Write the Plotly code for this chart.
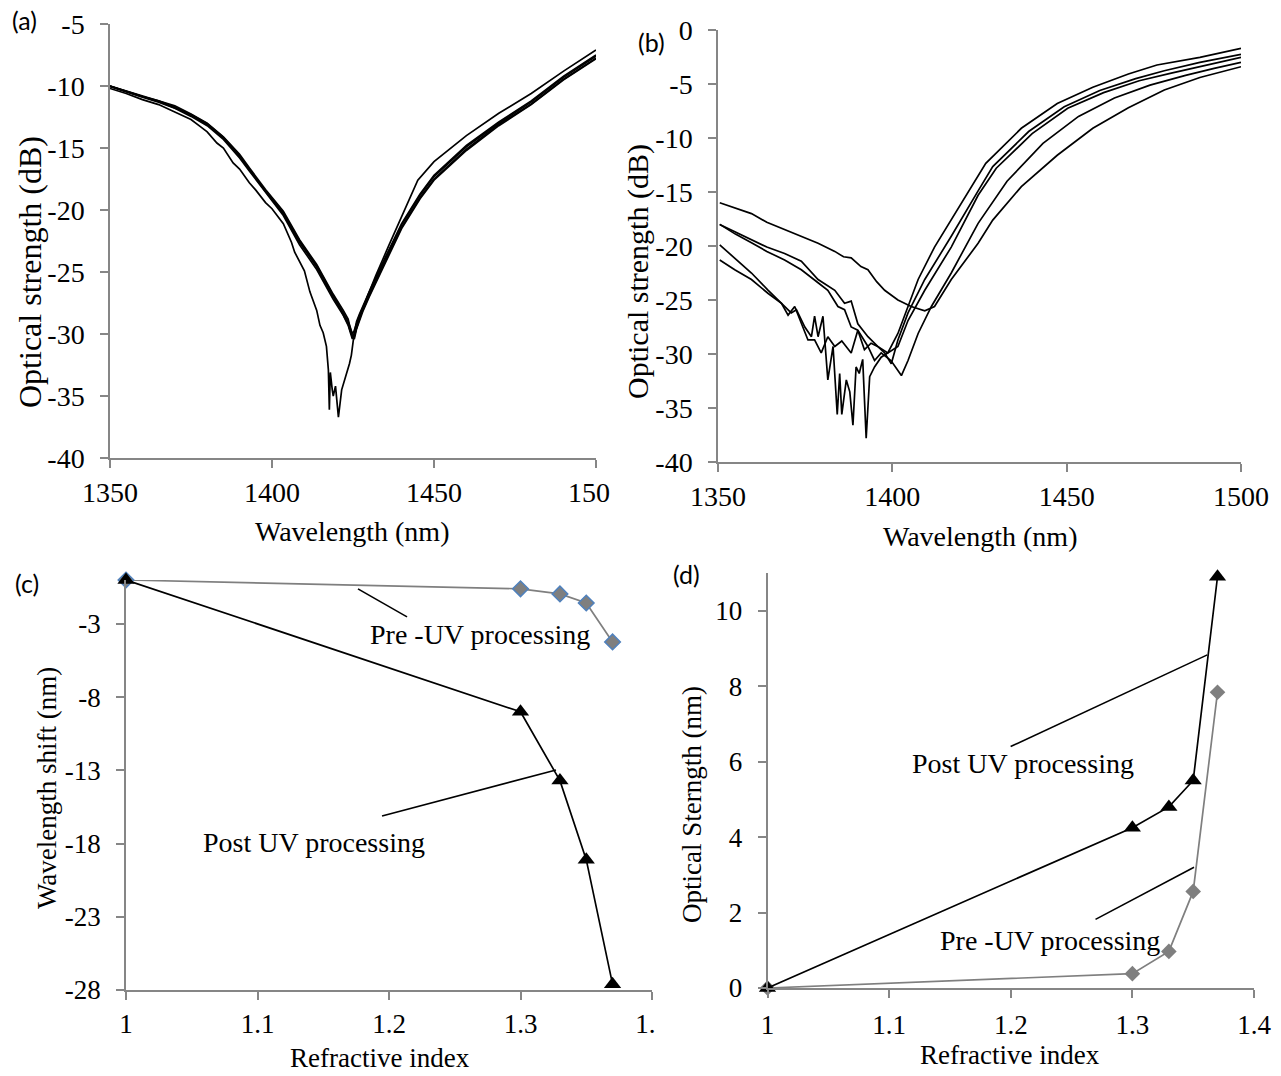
import plotly.graph_objects as go

# ---------------- Panel (a) data: wavelength (nm) / optical strength (dB) ----------------
a1_wl = [1350, 1355, 1360, 1365, 1370, 1375, 1378, 1380, 1383, 1385, 1388, 1390, 1393, 1395, 1398, 1400,
         1403.5, 1406, 1407, 1408.6, 1410, 1411.7, 1413.8, 1414.8, 1415.8, 1416.8, 1417.4, 1417.7, 1418.0,
         1418.6, 1418.9, 1419.6, 1420.5, 1421.5, 1422.5, 1423.2, 1423.9, 1424.5, 1425.1, 1426.0, 1427.2,
         1429.4, 1432, 1436, 1440, 1445, 1450, 1460, 1470, 1480, 1490, 1500]
a1_db = [-10.2, -10.6, -11.1, -11.5, -12.1, -12.7, -13.3, -13.7, -14.6, -15.0, -16.2, -16.7, -17.8, -18.4,
         -19.4, -19.9, -21.1, -22.6, -23.4, -24.2, -24.9, -26.6, -28.1, -29.3, -29.9, -31.0, -32.9, -36.1,
         -33.1, -34.5, -35.0, -34.2, -36.7, -34.5, -33.7, -33.0, -32.4, -31.7, -30.5, -29.6, -28.6,
         -27.0, -25.3, -22.9, -20.6, -17.6, -16.1, -14.0, -12.2, -10.6, -8.8, -7.1]

bundle_wl = [1350, 1355, 1360, 1365, 1370, 1375, 1380, 1385, 1390, 1393, 1398, 1403.5, 1408.5, 1413.8,
             1418.9, 1422, 1423.5, 1424.2, 1424.8, 1425.4, 1426.1, 1427, 1428, 1430, 1435, 1440, 1445.7,
             1450, 1460, 1470, 1480, 1490, 1500]
a2_db = [-10.0, -10.45, -10.85, -11.2, -11.7, -12.35, -13.1, -14.2, -15.65, -16.7, -18.5, -20.3, -22.6,
         -24.6, -27.0, -28.3, -29.0, -29.5, -30.0, -29.7, -29.1, -28.5, -27.9, -26.7, -23.9, -21.2, -18.8,
         -17.3, -14.9, -13.0, -11.3, -9.3, -7.6]
a3_db = [-10.0, -10.4, -10.8, -11.15, -11.6, -12.25, -13.0, -14.1, -15.5, -16.6, -18.35, -20.1, -22.4,
         -24.4, -26.8, -28.1, -28.8, -29.6, -30.3, -30.1, -29.4, -28.7, -28.1, -26.9, -24.1, -21.4, -19.0,
         -17.5, -15.1, -13.1, -11.45, -9.45, -7.75]
a4_db = [-10.05, -10.5, -10.9, -11.3, -11.8, -12.45, -13.2, -14.3, -15.8, -16.85, -18.6, -20.45, -22.8,
         -24.8, -27.2, -28.5, -29.3, -29.9, -30.4, -29.9, -29.0, -28.4, -27.8, -26.6, -23.8, -21.1, -18.7,
         -17.2, -14.8, -12.9, -11.2, -9.2, -7.5]
a5_db = [-10.0, -10.45, -10.85, -11.25, -11.75, -12.3, -13.05, -14.15, -15.6, -16.75, -18.45, -20.25,
         -22.5, -24.5, -26.9, -28.4, -29.2, -29.8, -30.1, -30.4, -29.6, -28.9, -28.2, -27.0, -24.2, -21.5,
         -19.1, -17.6, -15.2, -13.2, -11.5, -9.5, -7.8]

# ---------------- Panel (b) data ----------------
b1_wl = [1350.5, 1354, 1359.6, 1364, 1369.1, 1374, 1378.7, 1383.5, 1386, 1388.2, 1391, 1393, 1395.5,
         1397.8, 1401.6, 1405.4, 1409.3, 1412.1, 1416.9, 1424.6, 1428.8, 1437, 1447.3, 1457.5, 1467.7,
         1478, 1488.2, 1500]
b1_db = [-16.0, -16.4, -17.0, -17.8, -18.5, -19.1, -19.75, -20.5, -21.0, -21.1, -21.9, -22.2, -23.3,
         -24.1, -25.0, -25.6, -26.0, -25.6, -23.1, -19.75, -17.6, -14.5, -11.6, -9.1, -7.2,
         -5.55, -4.4, -3.4]

b2_wl = [1350.5, 1355, 1359.6, 1364, 1369.1, 1373.9, 1378.7, 1381.5, 1384.4, 1386.3, 1388.2, 1390.1,
         1393, 1394.9, 1396.8, 1399.6, 1402.6, 1404.5, 1407.4, 1411.2, 1416.9, 1424.6, 1432.9, 1443.2,
         1453.4, 1463.7, 1473.9, 1484.1, 1492.3, 1500]
b2_db = [-18.0, -18.9, -19.7, -20.5, -21.3, -22.2, -23.4, -24.1, -25.6, -25.9, -27.5, -27.8, -29.3,
         -30.6, -29.9, -30.6, -32.0, -30.6, -28.1, -25.6, -22.5, -17.9, -14.0, -10.5, -8.0, -6.3, -5.1,
         -4.2, -3.55, -3.0]

b3_wl = [1350.5, 1355, 1359.6, 1364, 1369.1, 1373.9, 1378.7, 1383.5, 1386.3, 1388.2, 1390.1, 1393,
         1395.8, 1398.7, 1401.6, 1404.5, 1409.3, 1416.9, 1424.6, 1429.8, 1440.1, 1450.3, 1460.6, 1470.8,
         1480, 1490.3, 1500]
b3_db = [-18.0, -18.7, -19.4, -20.1, -20.7, -21.4, -23.1, -24.1, -25.3, -25.1, -27.2, -28.4, -29.3,
         -29.9, -29.3, -26.9, -24.1, -20.1, -15.3, -12.8, -9.6, -7.25, -5.8, -4.7, -4.0, -3.24, -2.53]

b4_wl = [1350.5, 1354.8, 1359.6, 1364.4, 1367.2, 1369.1, 1371, 1372.5, 1374.9, 1376.8, 1377.7, 1378.7,
         1380.1, 1381.5, 1383, 1384.2, 1384.9, 1385.5, 1386.8, 1387.8, 1388.7, 1389.6, 1390.5, 1391.5,
         1392.5, 1393.5, 1394.9, 1396.8, 1398.7, 1401.6, 1404.5, 1407.4, 1412.1, 1416.9, 1422.7, 1426.8,
         1437, 1447.3, 1457.5, 1467.7, 1475.9, 1488.2, 1500]
b4_db = [-19.9, -21.1, -22.5, -24.1, -25.0, -25.6, -26.2, -25.9, -27.5, -28.4, -26.5, -28.4, -26.5,
         -32.4, -29.3, -35.6, -31.8, -35.6, -32.4, -33.5, -36.6, -31.2, -31.8, -30.5, -37.8, -32.1, -31.2,
         -30.3, -29.9, -28.1, -25.6, -23.1, -20.1, -17.6, -14.5, -12.35, -9.1, -6.8, -5.3, -4.07, -3.24,
         -2.53, -1.7]

b5_wl = [1350.5, 1354.8, 1359.6, 1364.4, 1368.2, 1370.1, 1372, 1373.9, 1375.8, 1377.7, 1379.6, 1381.5,
         1383.5, 1385.5, 1388.2, 1390.1, 1392, 1393.9, 1395.8, 1397.8, 1399.7, 1401.6, 1404.5, 1409.3,
         1416.9, 1424.6, 1428.8, 1439.1, 1449.3, 1459.5, 1469.8, 1478, 1488.2, 1500]
b5_db = [-21.3, -22.2, -23.1, -24.4, -25.3, -26.4, -25.6, -27.2, -28.7, -28.7, -29.9, -28.4, -29.3,
         -28.8, -29.9, -27.8, -29.6, -29.0, -29.3, -29.9, -30.9, -28.7, -26.2, -23.1, -19.1, -14.9,
         -12.65, -9.4, -7.1, -5.6, -4.5, -3.77, -3.0, -2.25]

# ---------------- Panel (c) / (d) data ----------------
refr_index = [1, 1.3, 1.33, 1.35, 1.37]
c_pre_shift = [0, -0.6, -0.95, -1.57, -4.23]
c_post_shift = [0, -9.0, -13.7, -19.1, -27.6]
d_pre_strength = [0, 0.38, 0.97, 2.56, 7.84]
d_post_strength = [0, 4.25, 4.8, 5.5, 10.9]

# ---------------- tick labels ----------------
a_xticks = [1350, 1400, 1450, 1500]
a_xlabels = ["1350", "1400", "1450", "150\u2007"]
a_yticks = [-40, -35, -30, -25, -20, -15, -10, -5]
a_ylabels = ["-40", "-35", "-30", "-25", "-20", "-15", "-10", "-5"]
b_xticks = [1350, 1400, 1450, 1500]
b_xlabels = ["1350", "1400", "1450", "1500"]
b_yticks = [-40, -35, -30, -25, -20, -15, -10, -5, 0]
b_ylabels = ["-40", "-35", "-30", "-25", "-20", "-15", "-10", "-5", "0"]
c_xticks = [1, 1.1, 1.2, 1.3, 1.4]
c_xlabels = ["1", "1.1", "1.2", "1.3", "1.\u2007"]
c_yticks = [-28, -23, -18, -13, -8, -3]
c_ylabels = ["-28", "-23", "-18", "-13", "-8", "-3"]
d_xticks = [1, 1.1, 1.2, 1.3, 1.4]
d_xlabels = ["1", "1.1", "1.2", "1.3", "1.4"]
d_yticks = [0, 2, 4, 6, 8, 10]
d_ylabels = ["0", "2", "4", "6", "8", "10"]

W, H = 1281, 1076
SERIF = "Liberation Serif, Times New Roman, serif"
SANS = "Lato, Open Sans, sans-serif"
AX = "#868686"


def px(x):
    return x / W


def py(y):
    return 1 - y / H


fig = go.Figure()

curve_line = dict(color="black", width=1.7)
for wl, db in [(a1_wl, a1_db), (bundle_wl, a2_db), (bundle_wl, a3_db), (bundle_wl, a4_db), (bundle_wl, a5_db)]:
    fig.add_trace(go.Scatter(x=wl, y=db, mode="lines", line=curve_line, xaxis="x", yaxis="y",
                             showlegend=False))
for wl, db in [(b1_wl, b1_db), (b2_wl, b2_db), (b3_wl, b3_db), (b4_wl, b4_db), (b5_wl, b5_db)]:
    fig.add_trace(go.Scatter(x=wl, y=db, mode="lines", line=curve_line, xaxis="x2", yaxis="y2",
                             showlegend=False))

# panel c
fig.add_trace(go.Scatter(x=refr_index, y=c_pre_shift, mode="lines+markers", xaxis="x3", yaxis="y3",
                         line=dict(color="#7f7f7f", width=1.7),
                         marker=dict(symbol="diamond", size=12, color="#7f7f7f",
                                     line=dict(color="#4F81BD", width=1.5)),
                         showlegend=False, cliponaxis=False))
fig.add_trace(go.Scatter(x=refr_index, y=c_post_shift, mode="lines+markers", xaxis="x3", yaxis="y3",
                         line=dict(color="black", width=1.7),
                         marker=dict(symbol="triangle-up", size=15, color="black"),
                         showlegend=False, cliponaxis=False))
# panel d
fig.add_trace(go.Scatter(x=refr_index, y=d_pre_strength, mode="lines+markers", xaxis="x4", yaxis="y4",
                         line=dict(color="#7f7f7f", width=1.7),
                         marker=dict(symbol="diamond", size=12, color="#7f7f7f"),
                         showlegend=False, cliponaxis=False))
fig.add_trace(go.Scatter(x=refr_index, y=d_post_strength, mode="lines+markers", xaxis="x4", yaxis="y4",
                         line=dict(color="black", width=1.7),
                         marker=dict(symbol="triangle-up", size=15, color="black"),
                         showlegend=False, cliponaxis=False))


def axis(domain, rng, tickvals, ticktext, anchor, size=27, standoff=10):
    return dict(domain=domain, range=rng, tickvals=tickvals, ticktext=ticktext, anchor=anchor,
                tickmode="array", automargin=False,
                showline=True, linecolor=AX, linewidth=1.5, ticks="outside", ticklen=8,
                tickcolor=AX, tickwidth=1.5, showgrid=False, zeroline=False,
                tickfont=dict(family=SERIF, size=size, color="black"), ticklabelstandoff=standoff,
                fixedrange=True)


fig.update_layout(
    width=W, height=H, margin=dict(l=0, r=0, t=0, b=0, autoexpand=False),
    paper_bgcolor="white", plot_bgcolor="white",
    font=dict(family=SERIF, size=27, color="black"),
    xaxis=axis([px(110), px(596)], [1350, 1500], a_xticks, a_xlabels, "y", 28, 1),
    yaxis=axis([py(458), py(24)], [-40, -5], a_yticks, a_ylabels, "x", 28, 10),
    xaxis2=axis([px(718), px(1241)], [1350, 1500], b_xticks, b_xlabels, "y2", 28, 1),
    yaxis2=axis([py(462), py(30)], [-40, 0], b_yticks, b_ylabels, "x2", 28, 10),
    xaxis3=axis([px(126), px(652)], [1, 1.4], c_xticks, c_xlabels, "y3", 27, 1),
    yaxis3=axis([py(990), py(580)], [-28, 0], c_yticks, c_ylabels, "x3", 27, 10),
    xaxis4=axis([px(767.5), px(1254)], [1, 1.4], d_xticks, d_xlabels, "y4", 27, 4),
    yaxis4=axis([py(988), py(573)], [0, 11], d_yticks, d_ylabels, "x4", 27, 10),
)

ann = []


def paper_text(text, x, y, size=27, angle=0, family=SERIF):
    ann.append(dict(text=text, x=px(x), y=py(y), xref="paper", yref="paper", showarrow=False,
                    textangle=angle, xanchor="center", yanchor="middle",
                    font=dict(family=family, size=size, color="black")))


paper_text("(a)", 24, 20, 25, family=SANS)
paper_text("(b)", 651, 42, 25, family=SANS)
paper_text("(c)", 27, 583, 25, family=SANS)
paper_text("(d)", 686, 574, 25, family=SANS)

paper_text("Optical strength (dB)", 30, 272, 32, -90)
paper_text("Wavelength (nm)", 352, 532, 28)
paper_text("Optical strength (dB)", 638, 272, 30, -90)
paper_text("Wavelength (nm)", 980, 536, 28)
paper_text("Wavelength shift (nm)", 47, 788, 27, -90)
paper_text("Refractive index", 380, 1058, 27)
paper_text("Optical Sterngth (nm)", 692, 805, 27, -90)
paper_text("Refractive index", 1010, 1055, 27)

# in-plot labels (data coordinates)
ann.append(dict(text="Pre -UV processing", x=1.269, y=-3.75, xref="x3", yref="y3", showarrow=False,
                font=dict(family=SERIF, size=28, color="black")))
ann.append(dict(text="Post UV processing", x=1.143, y=-17.96, xref="x3", yref="y3", showarrow=False,
                font=dict(family=SERIF, size=28, color="black")))
ann.append(dict(text="Post UV processing", x=1.210, y=5.96, xref="x4", yref="y4", showarrow=False,
                font=dict(family=SERIF, size=28, color="black")))
ann.append(dict(text="Pre -UV processing", x=1.232, y=1.27, xref="x4", yref="y4", showarrow=False,
                font=dict(family=SERIF, size=28, color="black")))
fig.update_layout(annotations=ann)

leader = dict(color="black", width=1.6)
shapes = [
    dict(type="line", xref="x3", yref="y3", x0=1.1764, y0=-0.61, x1=1.2137, y1=-2.52, line=leader),
    dict(type="line", xref="x3", yref="y3", x0=1.327, y0=-12.97, x1=1.1947, y1=-16.11, line=leader),
    dict(type="line", xref="x4", yref="y4", x0=1.3616, y0=8.83, x1=1.1999, y1=6.40, line=leader),
    dict(type="line", xref="x4", yref="y4", x0=1.3507, y0=3.20, x1=1.2697, y1=1.82, line=leader),
]
fig.update_layout(shapes=shapes)

fig.write_html("out.html", config={"displayModeBar": False},
               post_script="document.body.style.margin='0px';")
